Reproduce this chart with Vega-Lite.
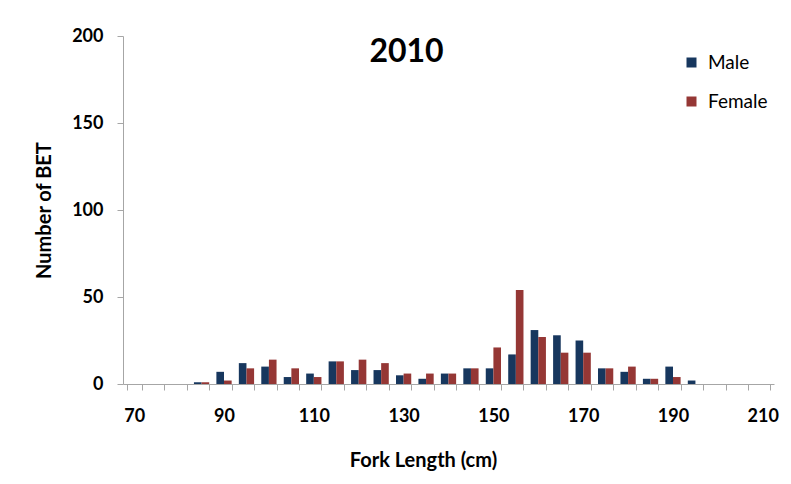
{
  "$schema": "https://vega.github.io/schema/vega-lite/v6.json",
  "width": 651,
  "height": 348,
  "autosize": {"type": "none"},
  "padding": {"left": 123, "top": 36, "right": 17, "bottom": 100},
  "background": "white",
  "config": {"view": {"stroke": null}, "font": "Lato"},
  "title": {"text": "2010", "fontSize": 32, "fontWeight": "bold", "color": "black", "anchor": "middle", "frame": "bounds", "offset": -42},
  "data": {"values": [
    {"length": 85, "sex": "Male", "count": 1}, {"length": 85, "sex": "Female", "count": 1},
    {"length": 90, "sex": "Male", "count": 7}, {"length": 90, "sex": "Female", "count": 2},
    {"length": 95, "sex": "Male", "count": 12}, {"length": 95, "sex": "Female", "count": 9},
    {"length": 100, "sex": "Male", "count": 10}, {"length": 100, "sex": "Female", "count": 14},
    {"length": 105, "sex": "Male", "count": 4}, {"length": 105, "sex": "Female", "count": 9},
    {"length": 110, "sex": "Male", "count": 6}, {"length": 110, "sex": "Female", "count": 4},
    {"length": 115, "sex": "Male", "count": 13}, {"length": 115, "sex": "Female", "count": 13},
    {"length": 120, "sex": "Male", "count": 8}, {"length": 120, "sex": "Female", "count": 14},
    {"length": 125, "sex": "Male", "count": 8}, {"length": 125, "sex": "Female", "count": 12},
    {"length": 130, "sex": "Male", "count": 5}, {"length": 130, "sex": "Female", "count": 6},
    {"length": 135, "sex": "Male", "count": 3}, {"length": 135, "sex": "Female", "count": 6},
    {"length": 140, "sex": "Male", "count": 6}, {"length": 140, "sex": "Female", "count": 6},
    {"length": 145, "sex": "Male", "count": 9}, {"length": 145, "sex": "Female", "count": 9},
    {"length": 150, "sex": "Male", "count": 9}, {"length": 150, "sex": "Female", "count": 21},
    {"length": 155, "sex": "Male", "count": 17}, {"length": 155, "sex": "Female", "count": 54},
    {"length": 160, "sex": "Male", "count": 31}, {"length": 160, "sex": "Female", "count": 27},
    {"length": 165, "sex": "Male", "count": 28}, {"length": 165, "sex": "Female", "count": 18},
    {"length": 170, "sex": "Male", "count": 25}, {"length": 170, "sex": "Female", "count": 18},
    {"length": 175, "sex": "Male", "count": 9}, {"length": 175, "sex": "Female", "count": 9},
    {"length": 180, "sex": "Male", "count": 7}, {"length": 180, "sex": "Female", "count": 10},
    {"length": 185, "sex": "Male", "count": 3}, {"length": 185, "sex": "Female", "count": 3},
    {"length": 190, "sex": "Male", "count": 10}, {"length": 190, "sex": "Female", "count": 4},
    {"length": 195, "sex": "Male", "count": 2}, {"length": 195, "sex": "Female", "count": 0}
  ]},
  "mark": {"type": "bar"},
  "encoding": {
    "x": {
      "field": "length", "type": "ordinal",
      "scale": {"domain": [70,75,80,85,90,95,100,105,110,115,120,125,130,135,140,145,150,155,160,165,170,175,180,185,190,195,200,205,210], "paddingInner": 0.32, "paddingOuter": 0.16},
      "axis": {
        "title": "Fork Length (cm)", "titleFontSize": 20, "titleFontWeight": "bold", "titleColor": "black",
        "titlePadding": 25, "titleX": 300,
        "labelAngle": 0, "labelFontSize": 18, "labelFontWeight": "bold", "labelColor": "black", "labelPadding": 17,
        "labelExpr": "(datum.value - 70) % 20 == 0 ? datum.label : ''",
        "tickBand": "extent", "tickSize": 6, "tickColor": "#a6a6a6", "domainColor": "#a6a6a6", "grid": false
      }
    },
    "xOffset": {"field": "sex", "type": "nominal", "scale": {"domain": ["Male", "Female"]}},
    "y": {
      "field": "count", "type": "quantitative",
      "scale": {"domain": [0, 200]},
      "axis": {
        "title": "Number of BET", "titleFontSize": 20, "titleFontWeight": "bold", "titleColor": "black", "titlePadding": 17,
        "values": [0, 50, 100, 150, 200],
        "labelFontSize": 18, "labelFontWeight": "bold", "labelColor": "black", "labelPadding": 14,
        "tickSize": 6, "tickColor": "#a6a6a6", "domainColor": "#a6a6a6", "grid": false
      }
    },
    "color": {
      "field": "sex", "type": "nominal",
      "scale": {"domain": ["Male", "Female"], "range": ["#17375E", "#953735"]},
      "legend": {
        "title": null, "orient": "none", "legendX": 559, "legendY": 17,
        "symbolType": "square", "symbolSize": 100, "symbolStrokeWidth": 0,
        "labelFontSize": 19, "labelColor": "black", "labelOffset": 7, "rowPadding": 19
      }
    }
  }
}
